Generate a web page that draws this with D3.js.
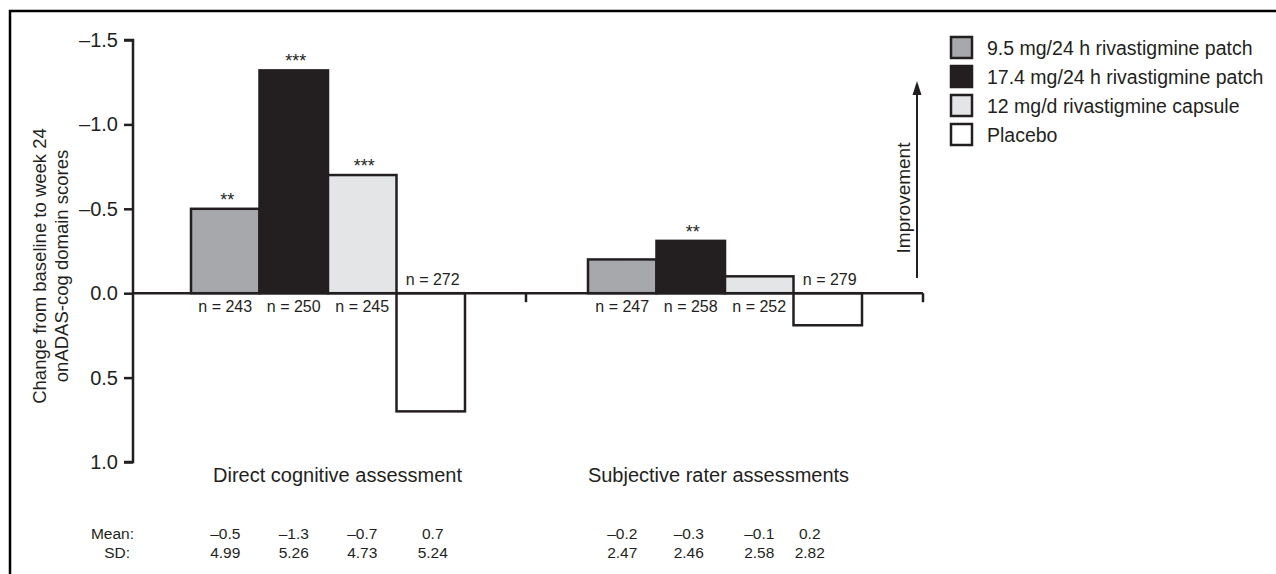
<!DOCTYPE html>
<head>
    <meta charset="utf-8">
    <script src="https://d3js.org/d3.v7.min.js"></script>
    <style>
        body { margin: 0; background: #fff; }
        text { font-family: "Liberation Sans", Arial, sans-serif; fill: #231f20; }
    </style>
</head>

<body>
    <div id="chart"></div>
</body>

<script>
    // data
    const groups = ["Direct cognitive assessment", "Subjective rater assessments"];
    const series = ["9.5 mg/24 h rivastigmine patch", "17.4 mg/24 h rivastigmine patch",
                    "12 mg/d rivastigmine capsule", "Placebo"];
    const fills = ["#a7a8ab", "#231f20", "#e4e5e7", "#ffffff"];
    const changeValues = [
        [-0.5, -1.32, -0.7, 0.7],
        [-0.2, -0.31, -0.1, 0.19]
    ];
    const nValues = [[243, 250, 245, 272], [247, 258, 252, 279]];
    const stars = [["**", "***", "***", ""], ["", "**", "", ""]];
    const meanLabels = [["–0.5", "–1.3", "–0.7", "0.7"], ["–0.2", "–0.3", "–0.1", "0.2"]];
    const sdLabels = [["4.99", "5.26", "4.73", "5.24"], ["2.47", "2.46", "2.58", "2.82"]];
    const yTicks = [-1.5, -1.0, -0.5, 0.0, 0.5, 1.0];

    const W = 1276, H = 574;
    const svg = d3.select("#chart").append("svg")
        .attr("width", W).attr("height", H);

    // frame (top + left)
    svg.append("path")
        .attr("d", `M10,${H} V11 H${W}`)
        .attr("fill", "none").attr("stroke", "#000").attr("stroke-width", 2.5);

    const axisX = 133;
    const y = d3.scaleLinear().domain([-1.5, 1.0]).range([40, 462]);
    const x0 = d3.scaleBand().domain(groups).range([129, 923]).padding(0);
    const x1 = d3.scaleBand().domain(series).range([62, 336]).padding(0);
    const groupLabelShift = [10, -6];
    const tableShift = [[0, 0, 0, 2], [0, -2, 0, -18]];

    const fmt = d => (d < 0 ? "–" : "") + Math.abs(d).toFixed(1);
    const mid = i => x1(series[i]) + x1.bandwidth() / 2;

    // Y axis
    const yAxis = svg.append("g")
        .attr("transform", `translate(${axisX},0)`)
        .call(d3.axisLeft(y).tickValues(yTicks).tickFormat(fmt).tickSize(9).tickPadding(6));
    yAxis.select(".domain").attr("stroke", "#231f20").attr("stroke-width", 2.5)
        .attr("d", `M-9,${y(-1.5)}H0V${y(1.0)}H-9`);
    yAxis.selectAll(".tick line").attr("stroke", "#231f20").attr("stroke-width", 2.5);
    yAxis.selectAll(".tick text").style("font-size", "20px").attr("fill", "#231f20")
        .style("font-family", "Liberation Sans, Arial, sans-serif");

    // Y label
    svg.append("text")
        .attr("transform", `translate(46,266) rotate(-90)`)
        .attr("text-anchor", "middle").style("font-size", "18.5px")
        .selectAll("tspan")
        .data(["Change from baseline to week 24", "onADAS-cog domain scores"])
        .join("tspan")
        .attr("x", 0).attr("dy", (d, i) => i ? 22 : 0)
        .text(d => d);

    // bars
    const g = svg.selectAll(".grp").data(groups).join("g")
        .attr("transform", d => `translate(${x0(d)},0)`);

    g.selectAll("rect")
        .data((d, gi) => changeValues[gi].map((v, i) => ({ v, i })))
        .join("rect")
        .attr("x", d => x1(series[d.i]))
        .attr("width", x1.bandwidth())
        .attr("y", d => y(Math.min(0, d.v)))
        .attr("height", d => Math.abs(y(d.v) - y(0)))
        .attr("fill", d => fills[d.i])
        .attr("stroke", "#231f20").attr("stroke-width", 2.5);

    // zero line with group ticks
    const zeroY = y(0);
    svg.append("line")
        .attr("x1", axisX).attr("x2", x0.range()[1])
        .attr("y1", zeroY).attr("y2", zeroY)
        .attr("stroke", "#231f20").attr("stroke-width", 2.5);
    svg.selectAll(".gtick").data(groups.map(d => x0(d) + x0.bandwidth()))
        .join("line")
        .attr("x1", d => d).attr("x2", d => d)
        .attr("y1", zeroY).attr("y2", zeroY + 9)
        .attr("stroke", "#231f20").attr("stroke-width", 2.5);

    // n labels
    g.selectAll(".n")
        .data((d, gi) => nValues[gi].map((n, i) => ({ n, i, v: changeValues[gi][i] })))
        .join("text")
        .attr("x", d => mid(d.i) + (d.v > 0 ? 2 : 0))
        .attr("y", d => d.v > 0 ? zeroY - 8 : zeroY + 19)
        .attr("text-anchor", "middle").style("font-size", "16px")
        .text(d => "n = " + d.n);

    // significance stars
    g.selectAll(".star")
        .data((d, gi) => stars[gi].map((s, i) => ({ s, i, v: changeValues[gi][i] })))
        .join("text")
        .attr("x", d => mid(d.i) + 2)
        .attr("y", d => y(d.v) - 3)
        .attr("text-anchor", "middle").style("font-size", "18px")
        .text(d => d.s);

    // group labels
    svg.selectAll(".glabel").data(groups).join("text")
        .attr("x", (d, i) => x0(d) + x0.bandwidth() / 2 + groupLabelShift[i])
        .attr("y", 482)
        .attr("text-anchor", "middle").style("font-size", "20px")
        .text(d => d);

    // mean / SD table
    svg.append("text").attr("x", 134).attr("y", 539).attr("text-anchor", "end")
        .style("font-size", "15.5px").text("Mean:");
    svg.append("text").attr("x", 130).attr("y", 558).attr("text-anchor", "end")
        .style("font-size", "15.5px").text("SD:");
    g.selectAll(".mean")
        .data((d, gi) => meanLabels[gi].map((m, i) => ({ m, i, dx: tableShift[gi][i] })))
        .join("text")
        .attr("x", d => mid(d.i) + d.dx)
        .attr("y", 539).attr("text-anchor", "middle").style("font-size", "15.5px")
        .text(d => d.m);
    g.selectAll(".sd")
        .data((d, gi) => sdLabels[gi].map((s, i) => ({ s, i, dx: tableShift[gi][i] })))
        .join("text")
        .attr("x", d => mid(d.i) + d.dx)
        .attr("y", 558).attr("text-anchor", "middle").style("font-size", "15.5px")
        .text(d => d.s);

    // improvement arrow
    svg.append("line")
        .attr("x1", 917).attr("x2", 917).attr("y1", 278).attr("y2", 92)
        .attr("stroke", "#231f20").attr("stroke-width", 2);
    svg.append("path").attr("d", "M917,81 L912.5,95 L921.5,95 Z").attr("fill", "#231f20");
    svg.append("text")
        .attr("transform", "translate(910,198) rotate(-90)")
        .attr("text-anchor", "middle").style("font-size", "19px")
        .text("Improvement");

    // legend
    const leg = svg.selectAll(".leg").data(series).join("g")
        .attr("transform", (d, i) => `translate(951,${37 + i * 29})`);
    leg.append("rect")
        .attr("width", 21).attr("height", 21)
        .attr("fill", (d, i) => fills[i])
        .attr("stroke", "#231f20").attr("stroke-width", 2.5);
    leg.append("text")
        .attr("x", 36).attr("y", 18)
        .style("font-size", "19.5px")
        .text(d => d);
</script>
</html>
